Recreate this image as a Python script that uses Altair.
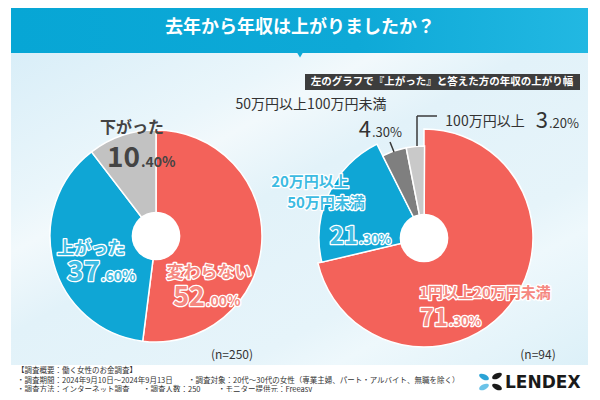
import altair as alt
import pandas as pd

# ---------------- data ----------------
TITLE = "去年から年収は上がりましたか？"
SUBTITLE = "左のグラフで『上がった』と答えた方の年収の上がり幅"

left_cats = ["変わらない", "上がった", "下がった"]
left_vals = [52.0, 37.6, 10.4]
left_n = 250

right_cats = ["1円以上20万円未満", "20万円以上50万円未満", "50万円以上100万円未満", "100万円以上"]
right_vals = [71.3, 21.3, 4.3, 3.2]
right_n = 94

footer_head = "【調査概要：働く女性のお金調査】"
footer_items = [
    "・調査期間：2024年9月10日～2024年9月13日",
    "・調査対象：20代～30代の女性（専業主婦、パート・アルバイト、無職を除く）",
    "・調査方法：インターネット調査",
    "・調査人数：250",
    "・モニター提供元：Freeasy",
]
brand = "LENDEX"

# ---------------- style ----------------
RED = "#f3625a"
BLUE = "#0fa6d5"
RED_IN = "#f58880"
BLUE_IN = "#3dbbe2"
LGRAY = "#c2c2c2"
DGRAY = "#7f7f7f"
LGRAY2 = "#c9c9c9"
left_colors = [RED, BLUE, LGRAY]
right_colors = [RED, BLUE, DGRAY, LGRAY2]
left_radii = [106, 106, 106]
right_radii = [109, 105, 92, 92]
SANS = "Noto Sans CJK JP"
DARK = "#3a3a3a"
OX, OY = 8, 8  # page margin offset


def T(s, x, y, size, color, weight="normal", align="center", baseline="middle",
      stroke=None, sw=None, font=SANS):
    props = dict(fontSize=size, fill=color, fontWeight=weight, align=align,
                 baseline=baseline, font=font)
    if stroke:
        props.update(stroke=stroke, strokeWidth=sw, strokeJoin="round")
    return alt.Chart(alt.Data(values=[{"t": s}])).mark_text(**props).encode(
        text="t:N", x=alt.value(x - OX), y=alt.value(y - OY))


def OT(s, x, y, size, inner, weight="bold", align="center", baseline="middle"):
    """white-outlined text: white halo underneath, tinted fill on top"""
    return [T(s, x, y, size, "white", weight=weight, align=align, baseline=baseline,
              stroke="white", sw=2.6),
            T(s, x, y, size, inner, weight=weight, align=align, baseline=baseline)]


def pct(v, xs, base, big, small, color, weight="normal", outline=False):
    s = f"{v:.2f}%"
    a, b = s.split(".")
    if outline:
        return (OT(a, xs, base, big, color, weight=weight, align="right", baseline="alphabetic")
                + OT("." + b, xs + 1, base, small, color, weight=weight, align="left", baseline="alphabetic"))
    return [
        T(a, xs, base, big, color, weight=weight, align="right", baseline="alphabetic"),
        T("." + b, xs + 1, base, small, color, weight=weight, align="left", baseline="alphabetic"),
    ]


def rect(x1, y1, x2, y2, fill):
    return alt.Chart(alt.Data(values=[{}])).mark_rect(fill=fill).encode(
        x=alt.value(x1 - OX), y=alt.value(max(y1 - OY, 0)),
        x2=alt.value(x2 - OX), y2=alt.value(y2 - OY))


def rule(x1, y1, x2, y2, color=DARK, w=1.5):
    return alt.Chart(alt.Data(values=[{}])).mark_rule(color=color, strokeWidth=w).encode(
        x=alt.value(x1 - OX), y=alt.value(y1 - OY),
        x2=alt.value(x2 - OX), y2=alt.value(y2 - OY))


def donut(cats, vals, cols, radii, cx, cy):
    df = pd.DataFrame({"cat": cats, "value": vals, "idx": list(range(len(cats))),
                       "col": cols, "r": radii})
    pie = alt.Chart(df).transform_window(
        cum="sum(value)", sort=[alt.SortField("idx", order="ascending")],
        frame=[None, 0]
    ).transform_calculate(
        start="datum.cum - datum.value"
    ).mark_arc(stroke="white", strokeWidth=1.5).encode(
        theta=alt.Theta("start:Q", scale=alt.Scale(domain=[0, 100])),
        theta2="cum:Q",
        color=alt.Color("col:N", scale=None),
        radius=alt.Radius("r:Q", scale=None),
        x=alt.value(cx - OX), y=alt.value(cy - OY),
    )
    hole = alt.Chart(alt.Data(values=[{}])).mark_point(
        shape="circle", filled=True, size=3.1416 * 27.5 ** 2, color="white", opacity=1).encode(
        x=alt.value(cx - OX), y=alt.value(cy - OY))
    return [pie, hole]


panel_grad = alt.LinearGradient(
    gradient="linear", x1=0, y1=0, x2=1, y2=1,
    stops=[alt.GradientStop(color="#d9eef8", offset=0),
           alt.GradientStop(color="#eaf6fb", offset=0.25),
           alt.GradientStop(color="#f2f9fc", offset=0.32),
           alt.GradientStop(color="#e2f2f9", offset=0.45),
           alt.GradientStop(color="#e6f4fa", offset=0.7),
           alt.GradientStop(color="#eef8fc", offset=0.78),
           alt.GradientStop(color="#dcf0f8", offset=1)])
banner_grad = alt.LinearGradient(
    gradient="linear", x1=0, y1=0, x2=1, y2=0,
    stops=[alt.GradientStop(color="#07a6d5", offset=0),
           alt.GradientStop(color="#0ea9d7", offset=0.6),
           alt.GradientStop(color="#22b8e2", offset=1)])

layers = []
# background panel + banner
layers.append(rect(11, 53, 588, 365, panel_grad))
layers.append(rect(11, 0, 588, 53, banner_grad))
layers.append(alt.Chart(alt.Data(values=[{}])).mark_point(
    shape="triangle-down", filled=True, size=70, color="#0ea9d7", opacity=1).encode(
    x=alt.value(300 - OX), y=alt.value(54 - OY)))
layers.append(T(TITLE, 300, 28, 18, "white", weight="bold"))

# subtitle box
layers.append(rect(305, 74, 580, 90, "#3d3d3d"))
layers.append(T(SUBTITLE, 442, 82, 10.5, "white", weight="bold"))

# donuts
layers += donut(left_cats, left_vals, left_colors, left_radii, 156, 236)
layers += donut(right_cats, right_vals, right_colors, right_radii, 424, 238)

# leader lines (right)
layers.append(rule(390, 142, 394, 152))
layers.append(rule(417, 116, 437, 116))
layers.append(rule(417, 116, 417, 146))

# left labels
layers.append(T(left_cats[2], 132, 128, 16, "#444444", weight="bold"))
layers += pct(left_vals[2], 140, 167, 28, 14, "#444444", weight="bold")
layers += OT(left_cats[1], 91, 249, 17, BLUE_IN)
layers += pct(left_vals[1], 100, 281, 28, 14, BLUE_IN, weight="bold", outline=True)
layers += OT(left_cats[0], 209, 273, 17, RED_IN)
layers += pct(left_vals[0], 205, 306, 27, 14, RED_IN, weight="bold", outline=True)

# right labels
layers.append(T(right_cats[2], 311, 105, 14, "#333333"))
layers += pct(right_vals[2], 371, 137, 22, 13, "#333333")
layers.append(T(right_cats[3], 485, 122, 14, "#333333"))
layers += pct(right_vals[3], 548, 128, 22, 13, "#333333")
r1a, r1b = right_cats[1].split("以上")
layers += OT(r1a + "以上", 310, 182, 15, BLUE_IN)
layers += OT(r1b, 326, 203, 15, BLUE_IN)
layers += pct(right_vals[1], 358, 244, 24, 13, BLUE_IN, weight="bold", outline=True)
layers += OT(right_cats[0], 485, 293, 15, RED_IN)
layers += pct(right_vals[0], 448, 326, 24, 13, RED_IN, weight="bold", outline=True)

# n labels
layers.append(T(f"(n={left_n})", 232, 355, 12, "#333333"))
layers.append(T(f"(n={right_n})", 538, 355, 12, "#333333"))

# footer
FS = 7.5
layers.append(T(footer_head, 17, 371, FS, "#333333", align="left"))
layers.append(T(footer_items[0], 17, 380.5, FS, "#333333", align="left"))
layers.append(T(footer_items[1], 188, 380.5, FS, "#333333", align="left"))
layers.append(T(footer_items[2], 17, 389.5, FS, "#333333", align="left"))
layers.append(T(footer_items[3], 143, 389.5, FS, "#333333", align="left"))
layers.append(T(footer_items[4], 218, 389.5, FS, "#333333", align="left"))

# logo
PETAL = "M -1 0 A 1 0.5 0 1 0 1 0 A 1 0.5 0 1 0 -1 0 Z"
for (px, py, ang, col) in [(484, 377, 25, "#2aa3d6"), (484, 387, 155, "#6cc3e8"),
                           (497, 376, 155, "#1a1a1a"), (497, 387, 25, "#1a1a1a")]:
    layers.append(alt.Chart(alt.Data(values=[{}])).mark_point(
        shape=PETAL, filled=True, size=110, angle=ang, color=col, opacity=1).encode(
        x=alt.value(px - OX), y=alt.value(py - OY)))
layers.append(T(brand, 505, 388, 17, "#1a1a1a", weight="bold", align="left",
                baseline="alphabetic", font="DejaVu Sans"))

chart = alt.layer(*layers).properties(
    width=584, height=384, padding=0, autosize="none", background="white"
).configure_view(stroke=None)

chart.save("out.html", embed_options={"renderer": "svg", "actions": False})
